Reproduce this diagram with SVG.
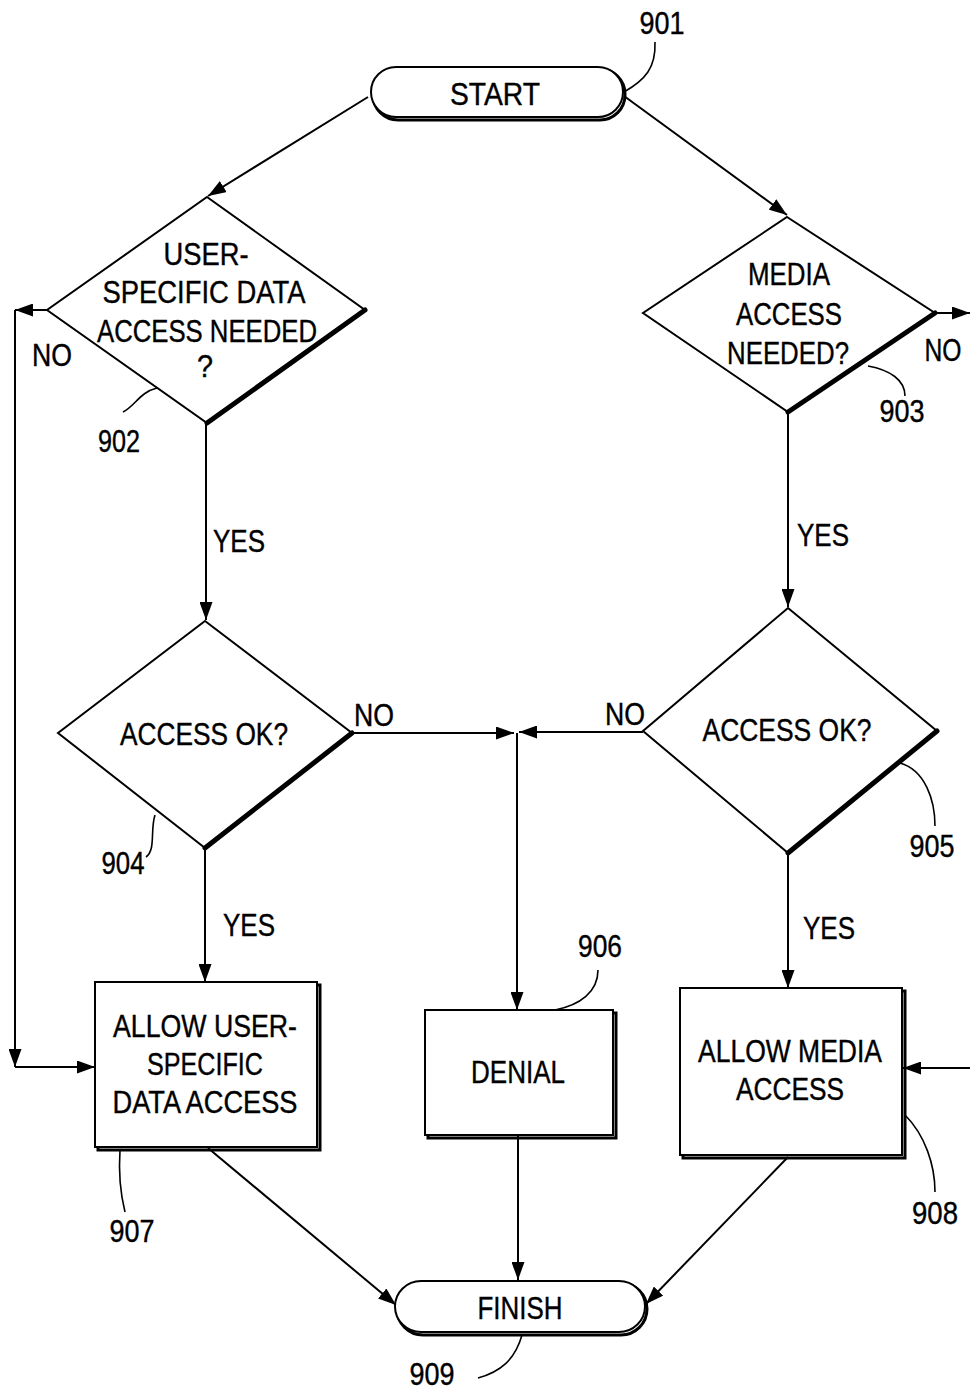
<svg xmlns="http://www.w3.org/2000/svg" width="970" height="1391" viewBox="0 0 970 1391">
<style>
.t{font-family:"Liberation Sans",Arial,sans-serif;font-size:32px;fill:#000;stroke:#000;stroke-width:0.4;text-anchor:middle}
.ln{fill:none;stroke:#000;stroke-width:2}
.lead{fill:none;stroke:#000;stroke-width:1.6}
.sh{fill:#fff;stroke:#000;stroke-width:2}
.thick{fill:none;stroke:#000;stroke-width:5;stroke-linecap:round}
.arr{marker-end:url(#ah)}
</style>
<defs>
<marker id="ah" viewBox="0 0 18 13" refX="18" refY="6.5" markerWidth="18" markerHeight="13" markerUnits="userSpaceOnUse" orient="auto"><path d="M0,0 L18,6.5 L0,13 z" fill="#000"/></marker>
</defs>
<rect width="970" height="1391" fill="#fff"/>

<g id="connectors">
<path class="ln arr" d="M368,97 L208,196"/>
<path class="ln arr" d="M624,96 L787,215"/>
<path class="ln arr" d="M47,310 L15,310"/>
<path class="ln arr" d="M15,310 L15,1067"/>
<path class="ln arr" d="M15,1067 L95,1067"/>
<path class="ln arr" d="M206,423 L206,620"/>
<path class="ln arr" d="M935,313 L970,313"/>
<path class="ln arr" d="M788,412 L788,607"/>
<path class="ln arr" d="M352,733 L514,733"/>
<path class="ln arr" d="M643,732 L519,732"/>
<path class="ln arr" d="M517,733 L517,1010"/>
<path class="ln arr" d="M205,848 L205,982"/>
<path class="ln arr" d="M788,853 L788,988"/>
<path class="ln arr" d="M970,1068 L903,1068"/>
<path class="ln arr" d="M208,1148 L396,1305"/>
<path class="ln arr" d="M518,1136 L518,1280"/>
<path class="ln arr" d="M788,1157 L646,1304"/>
<text class="t" x="52" y="366" textLength="40" lengthAdjust="spacingAndGlyphs">NO</text>
<text class="t" x="943" y="361" textLength="37" lengthAdjust="spacingAndGlyphs">NO</text>
<text class="t" x="374" y="726" textLength="40" lengthAdjust="spacingAndGlyphs">NO</text>
<text class="t" x="625" y="725" textLength="40" lengthAdjust="spacingAndGlyphs">NO</text>
<text class="t" x="239" y="552" textLength="52" lengthAdjust="spacingAndGlyphs">YES</text>
<text class="t" x="823" y="546" textLength="52" lengthAdjust="spacingAndGlyphs">YES</text>
<text class="t" x="249" y="936" textLength="52" lengthAdjust="spacingAndGlyphs">YES</text>
<text class="t" x="829" y="939" textLength="52" lengthAdjust="spacingAndGlyphs">YES</text>
</g>

<g id="n901">
<rect x="373" y="69" width="252" height="51" rx="25" fill="none" stroke="#000" stroke-width="3"/>
<rect x="371" y="67" width="252" height="50" rx="25" class="sh"/>
<text class="t" x="495" y="105" textLength="90" lengthAdjust="spacingAndGlyphs">START</text>
<path class="lead" d="M624,92 C645,80 656,68 655,42"/>
<text class="t" x="662" y="34" textLength="45" lengthAdjust="spacingAndGlyphs">901</text>
</g>

<g id="n902">
<polygon class="sh" points="207,197 365,310 207,423 47,310"/>
<path class="thick" d="M365,310 L207,423"/>
<text class="t" x="206" y="265" textLength="85" lengthAdjust="spacingAndGlyphs">USER-</text>
<text class="t" x="204" y="303" textLength="203" lengthAdjust="spacingAndGlyphs">SPECIFIC DATA</text>
<text class="t" x="207" y="342" textLength="220" lengthAdjust="spacingAndGlyphs">ACCESS NEEDED</text>
<text class="t" x="205" y="377" textLength="16" lengthAdjust="spacingAndGlyphs">?</text>
<path class="lead" d="M157,388 C140,392 135,406 123,412"/>
<text class="t" x="119" y="452" textLength="42" lengthAdjust="spacingAndGlyphs">902</text>
</g>

<g id="n903">
<polygon class="sh" points="787,217 935,313 788,412 643,313"/>
<path class="thick" d="M935,313 L788,412"/>
<text class="t" x="789" y="285" textLength="82" lengthAdjust="spacingAndGlyphs">MEDIA</text>
<text class="t" x="789" y="325" textLength="106" lengthAdjust="spacingAndGlyphs">ACCESS</text>
<text class="t" x="788" y="364" textLength="122" lengthAdjust="spacingAndGlyphs">NEEDED?</text>
<path class="lead" d="M868,366 C890,370 905,380 905,396"/>
<text class="t" x="902" y="422" textLength="45" lengthAdjust="spacingAndGlyphs">903</text>
</g>

<g id="n904">
<polygon class="sh" points="205,621 352,733 205,848 58,733"/>
<path class="thick" d="M352,733 L205,848"/>
<text class="t" x="204" y="745" textLength="168" lengthAdjust="spacingAndGlyphs">ACCESS OK?</text>
<path class="lead" d="M155,815 C150,830 156,850 146,857"/>
<text class="t" x="123" y="874" textLength="43" lengthAdjust="spacingAndGlyphs">904</text>
</g>

<g id="n905">
<polygon class="sh" points="788,608 937,731 788,853 643,731"/>
<path class="thick" d="M937,731 L788,853"/>
<text class="t" x="787" y="741" textLength="169" lengthAdjust="spacingAndGlyphs">ACCESS OK?</text>
<path class="lead" d="M900,763 C925,770 935,800 935,826"/>
<text class="t" x="932" y="857" textLength="45" lengthAdjust="spacingAndGlyphs">905</text>
</g>

<g id="n906">
<rect x="428" y="1013" width="188" height="125" fill="none" stroke="#000" stroke-width="3"/>
<rect x="425" y="1010" width="188" height="125" class="sh"/>
<text class="t" x="518" y="1083" textLength="94" lengthAdjust="spacingAndGlyphs">DENIAL</text>
<path class="lead" d="M555,1010 C580,1005 598,992 598,970"/>
<text class="t" x="600" y="957" textLength="44" lengthAdjust="spacingAndGlyphs">906</text>
</g>

<g id="n907">
<rect x="98" y="985" width="222" height="165" fill="none" stroke="#000" stroke-width="3"/>
<rect x="95" y="982" width="222" height="165" class="sh"/>
<text class="t" x="205" y="1037" textLength="184" lengthAdjust="spacingAndGlyphs">ALLOW USER-</text>
<text class="t" x="205" y="1075" textLength="116" lengthAdjust="spacingAndGlyphs">SPECIFIC</text>
<text class="t" x="205" y="1113" textLength="185" lengthAdjust="spacingAndGlyphs">DATA ACCESS</text>
<path class="lead" d="M120,1150 C118,1180 122,1200 125,1212"/>
<text class="t" x="132" y="1242" textLength="45" lengthAdjust="spacingAndGlyphs">907</text>
</g>

<g id="n908">
<rect x="683" y="991" width="222" height="167" fill="none" stroke="#000" stroke-width="3"/>
<rect x="680" y="988" width="222" height="167" class="sh"/>
<text class="t" x="790" y="1062" textLength="184" lengthAdjust="spacingAndGlyphs">ALLOW MEDIA</text>
<text class="t" x="790" y="1100" textLength="108" lengthAdjust="spacingAndGlyphs">ACCESS</text>
<path class="lead" d="M905,1115 C925,1135 935,1165 935,1192"/>
<text class="t" x="935" y="1224" textLength="46" lengthAdjust="spacingAndGlyphs">908</text>
</g>

<g id="n909">
<rect x="397" y="1283" width="250" height="52" rx="26" fill="none" stroke="#000" stroke-width="3"/>
<rect x="395" y="1281" width="250" height="51" rx="26" class="sh"/>
<text class="t" x="520" y="1319" textLength="85" lengthAdjust="spacingAndGlyphs">FINISH</text>
<path class="lead" d="M522,1335 C515,1360 500,1372 478,1378"/>
<text class="t" x="432" y="1385" textLength="45" lengthAdjust="spacingAndGlyphs">909</text>
</g>
</svg>
